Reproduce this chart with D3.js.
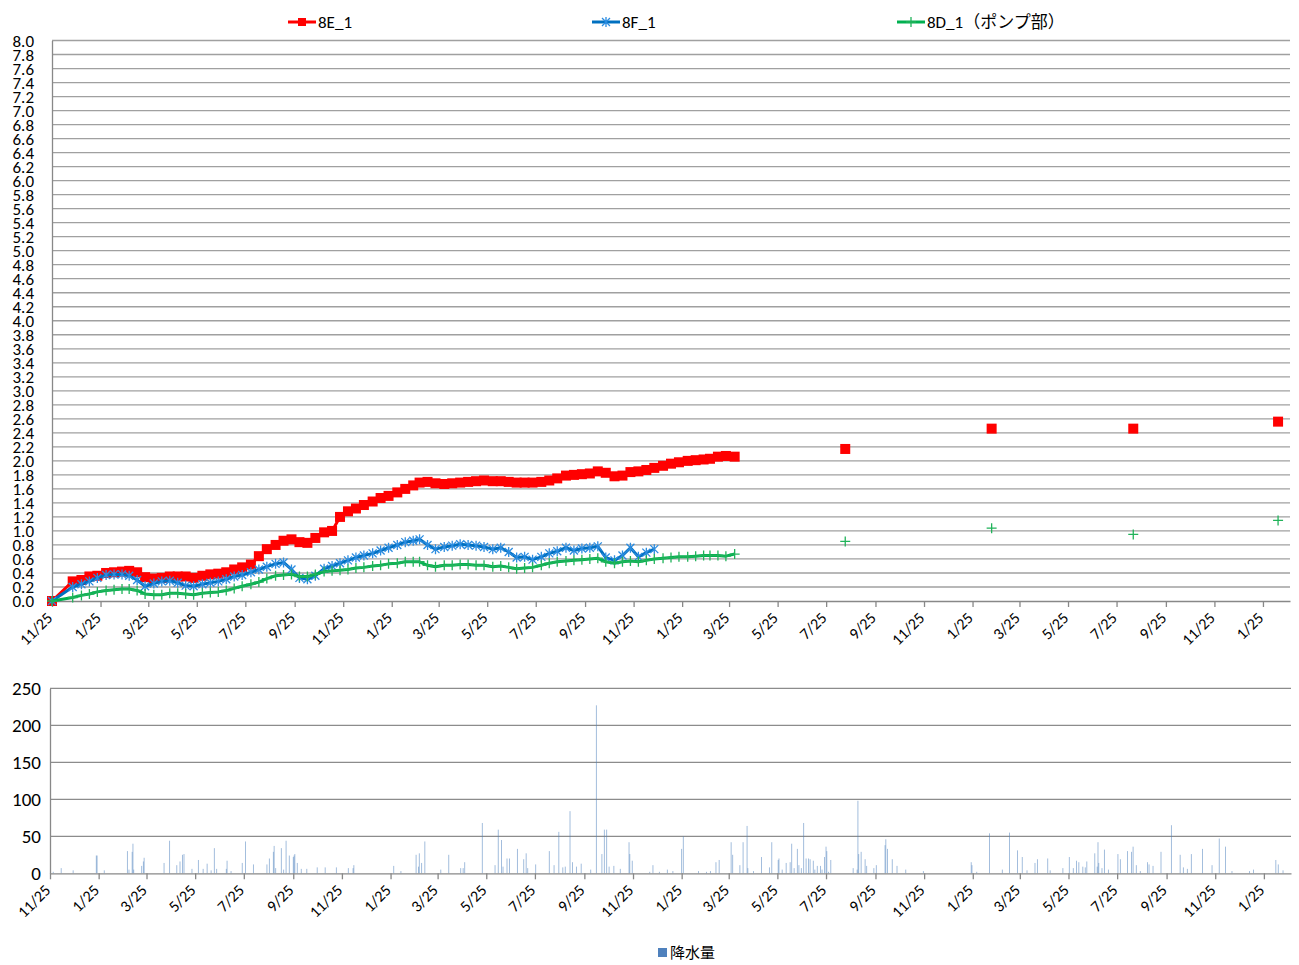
<!DOCTYPE html>
<html>
<head>
<meta charset="utf-8">
<script src="https://cdn.jsdelivr.net/npm/d3@7"></script>
<style>
    body { margin: 0; background: #fff; }
    text { font-family: Carlito, "Liberation Sans", "Noto Sans CJK JP", sans-serif; fill: #000; }
</style>
</head>
<body>
<div id="chart"></div>
<script>
// Variables
var seriesNames = ["8E_1", "8F_1", "8D_1（ポンプ部）"];
var rainName = "降水量";

// measurement dates (continuous period)
var measureDates = [
    "2011-11-25", "2011-12-21",
    "2012-01-01", "2012-01-11", "2012-01-21", "2012-02-01", "2012-02-11", "2012-02-21",
    "2012-03-01", "2012-03-11", "2012-03-21", "2012-04-01", "2012-04-11", "2012-04-21",
    "2012-05-01", "2012-05-11", "2012-05-21", "2012-06-01", "2012-06-11", "2012-06-21",
    "2012-07-01", "2012-07-11", "2012-07-21", "2012-08-01", "2012-08-11", "2012-08-21",
    "2012-09-01", "2012-09-11", "2012-09-21", "2012-10-01", "2012-10-11", "2012-10-21",
    "2012-11-01", "2012-11-11", "2012-11-21", "2012-12-01", "2012-12-11", "2012-12-21",
    "2013-01-01", "2013-01-11", "2013-01-21", "2013-02-01", "2013-02-11", "2013-02-21",
    "2013-03-01", "2013-03-11", "2013-03-21", "2013-04-01", "2013-04-11", "2013-04-21",
    "2013-05-01", "2013-05-11", "2013-05-21", "2013-06-01", "2013-06-11", "2013-06-21",
    "2013-07-01", "2013-07-11", "2013-07-21", "2013-08-01", "2013-08-11", "2013-08-21",
    "2013-09-01", "2013-09-11", "2013-09-21", "2013-10-01", "2013-10-11", "2013-10-21",
    "2013-11-01", "2013-11-11", "2013-11-21", "2013-12-01", "2013-12-11", "2013-12-21",
    "2014-01-01", "2014-01-11", "2014-01-21", "2014-02-01", "2014-02-11", "2014-02-21",
    "2014-03-01", "2014-03-11", "2014-03-21", "2014-04-01"
];

var values8E = [
    0, 0.28,
    0.30, 0.35, 0.36, 0.40, 0.41, 0.42,
    0.43, 0.41, 0.34, 0.32, 0.33, 0.35,
    0.35, 0.35, 0.33, 0.36, 0.38, 0.39,
    0.41, 0.45, 0.48, 0.52, 0.64, 0.74,
    0.80, 0.86, 0.88, 0.84, 0.83, 0.90,
    0.98, 1.00, 1.20, 1.28, 1.32, 1.37,
    1.42, 1.47, 1.50, 1.55, 1.60, 1.65,
    1.69, 1.70, 1.68, 1.67, 1.68, 1.69,
    1.70, 1.71, 1.72, 1.71, 1.71, 1.70,
    1.69, 1.69, 1.69, 1.70, 1.72, 1.75,
    1.79, 1.80, 1.81, 1.82, 1.85, 1.83,
    1.78, 1.79, 1.84, 1.85, 1.87, 1.90,
    1.93, 1.96, 1.98, 2.00, 2.01, 2.02,
    2.03, 2.06, 2.07, 2.06
];

var values8F = [
    0, 0.20,
    0.24, 0.28, 0.33, 0.37, 0.38, 0.38,
    0.36, 0.30, 0.21, 0.25, 0.28, 0.29,
    0.26, 0.22, 0.21, 0.24, 0.26, 0.28,
    0.31, 0.35, 0.37, 0.41, 0.45, 0.49,
    0.53, 0.55, 0.45, 0.33, 0.31, 0.36,
    0.46, 0.50, 0.54, 0.58, 0.62, 0.65,
    0.68, 0.72, 0.76, 0.80, 0.84, 0.86,
    0.88, 0.80, 0.74, 0.77, 0.79, 0.81,
    0.80, 0.79, 0.77, 0.74, 0.76, 0.70,
    0.62, 0.63, 0.59, 0.63, 0.68, 0.71,
    0.76, 0.72, 0.75, 0.76, 0.78, 0.62,
    0.58, 0.65, 0.76, 0.63, 0.69, 0.74,
    null, null, null, null, null, null,
    null, null, null, null
];

var values8D = [
    0, 0.05,
    0.08, 0.10, 0.13, 0.15, 0.16, 0.17,
    0.17, 0.15, 0.10, 0.09, 0.09, 0.11,
    0.11, 0.10, 0.09, 0.11, 0.12, 0.13,
    0.15, 0.18, 0.21, 0.24, 0.27, 0.32,
    0.36, 0.37, 0.38, 0.35, 0.35, 0.38,
    0.42, 0.43, 0.44, 0.45, 0.47, 0.48,
    0.50, 0.51, 0.53, 0.54, 0.56, 0.56,
    0.56, 0.51, 0.49, 0.51, 0.51, 0.52,
    0.52, 0.51, 0.51, 0.49, 0.50, 0.48,
    0.46, 0.47, 0.48, 0.51, 0.54, 0.56,
    0.57, 0.58, 0.59, 0.60, 0.61, 0.56,
    0.54, 0.56, 0.57, 0.56, 0.58, 0.60,
    0.61, 0.62, 0.63, 0.63, 0.64, 0.65,
    0.65, 0.65, 0.64, 0.67
];

// later single measurements
var laterDates = ["2014-08-18", "2015-02-18", "2015-08-15", "2016-02-13"];
var later8E = [2.17, 2.46, 2.46, 2.56];
var later8D = [0.85, 1.04, 0.95, 1.15];

// rainfall: days since 2011-11-25 and mm
var rainDays = [
    4, 14, 29, 58, 59, 68, 97, 99, 103, 104,
    105, 115, 117, 118, 143, 150, 159, 163, 166, 168,
    178, 186, 192, 197, 202, 206, 209, 221, 222, 227,
    241, 245, 255, 272, 275, 280, 281, 283, 290, 293,
    296, 300, 305, 306, 307, 310, 315, 322, 335, 345,
    359, 374, 380, 381, 431, 440, 459, 462, 463, 466,
    470, 490, 500, 515, 518, 520, 542, 558, 562, 566,
    568, 573, 576, 586, 594, 597, 599, 609, 626, 632,
    638, 643, 646, 652, 655, 660, 666, 678, 685, 692,
    695, 698, 701, 707, 715, 726, 727, 730, 752, 756,
    764, 774, 781, 792, 794, 813, 823, 828, 835, 839,
    854, 856, 865, 869, 874, 875, 882, 892, 902, 905,
    913, 914, 918, 923, 928, 930, 933, 937, 939, 942,
    945, 948, 951, 953, 957, 959, 962, 966, 968, 971,
    973, 974, 976, 979, 1007, 1012, 1013, 1014, 1017, 1022,
    1024, 1033, 1036, 1047, 1048, 1050, 1056, 1062, 1073, 1095,
    1155, 1156, 1162, 1178, 1194, 1203, 1213, 1219, 1225, 1235,
    1238, 1251, 1254, 1270, 1278, 1283, 1287, 1290, 1295, 1298,
    1300, 1310, 1313, 1314, 1315, 1319, 1322, 1327, 1339, 1342,
    1351, 1356, 1358, 1362, 1367, 1376, 1378, 1383, 1393, 1406,
    1417, 1421, 1426, 1431, 1445, 1457, 1466, 1474, 1482, 1504,
    1509, 1537, 1540, 1546
];
var rainMm = [
    2, 7, 4, 24, 24, 4, 30, 5, 29, 40,
    5, 10, 16, 21, 14, 44, 11, 16, 25, 26,
    6, 18, 6, 13, 4, 34, 6, 6, 17, 3,
    14, 43, 12, 12, 20, 29, 37, 7, 34, 5,
    44, 24, 22, 24, 26, 14, 6, 6, 8, 8,
    8, 7, 7, 11, 10, 3, 25, 9, 27, 14,
    43, 5, 25, 7, 7, 15, 68, 11, 59, 45,
    9, 20, 20, 33, 19, 27, 7, 12, 30, 11,
    56, 8, 9, 84, 15, 9, 13, 5, 227, 26,
    59, 59, 9, 10, 6, 42, 26, 17, 2, 11,
    2, 5, 3, 33, 50, 3, 2, 3, 15, 18,
    42, 25, 11, 42, 64, 7, 3, 22, 8, 42,
    18, 20, 5, 14, 15, 40, 7, 33, 11, 7,
    68, 20, 20, 19, 17, 5, 10, 10, 5, 22,
    36, 30, 2, 18, 7, 5, 98, 26, 29, 19,
    10, 7, 11, 38, 46, 33, 19, 10, 5, 3,
    15, 11, 2, 54, 5, 55, 31, 22, 4, 14,
    19, 20, 4, 7, 22, 7, 17, 15, 9, 8,
    16, 27, 9, 42, 14, 7, 32, 5, 26, 19,
    30, 29, 36, 11, 3, 15, 12, 10, 29, 65,
    25, 8, 6, 26, 33, 11, 47, 36, 3, 3,
    5, 18, 12, 4
];

var xTickDates = [
    "2011-11-25", "2012-01-25", "2012-03-25", "2012-05-25", "2012-07-25", "2012-09-25",
    "2012-11-25", "2013-01-25", "2013-03-25", "2013-05-25", "2013-07-25", "2013-09-25",
    "2013-11-25", "2014-01-25", "2014-03-25", "2014-05-25", "2014-07-25", "2014-09-25",
    "2014-11-25", "2015-01-25", "2015-03-25", "2015-05-25", "2015-07-25", "2015-09-25",
    "2015-11-25", "2016-01-25"
];
var rainTicks = [0, 50, 100, 150, 200, 250];

var parseDate = d3.timeParse("%Y-%m-%d");
var startDate = parseDate("2011-11-25");
var endDate = parseDate("2016-02-28");

var svg;

// Functions
function init() {
    svg = d3.select("#chart")
        .append("svg")
        .attr("width", 1299)
        .attr("height", 965);

    drawTopChart();
    drawRainChart();
}

function drawMarker(g, type, color) {
    if (type === "square") {
        g.append("rect")
            .attr("x", -5).attr("y", -5)
            .attr("width", 10).attr("height", 10)
            .attr("fill", color);
    } else if (type === "star") {
        g.append("path")
            .attr("d", "M-4,-4L4,4M-4,4L4,-4M0,-5L0,5")
            .attr("stroke", color).attr("stroke-width", 1.3).attr("fill", "none");
    } else {
        g.append("path")
            .attr("d", "M-5,0L5,0M0,-5L0,5")
            .attr("stroke", color).attr("stroke-width", 1.3).attr("fill", "none");
    }
}

function styleDateAxis(axisG) {
    axisG.select(".domain").attr("stroke", "#888").attr("stroke-width", 1.3);
    axisG.selectAll(".tick line").attr("stroke", "#888").attr("stroke-width", 1.3);
    axisG.selectAll(".tick text")
        .attr("font-size", 16)
        .attr("text-anchor", "end")
        .attr("transform", "translate(1,18) rotate(-45)")
        .attr("x", 0).attr("y", 0).attr("dy", 0);
}

function drawTopChart() {
    var x = d3.scaleTime().domain([startDate, endDate]).range([52, 1290]);
    var y = d3.scaleLinear().domain([0, 8]).range([601, 40.5]);
    var yTicks = d3.range(0, 41).map(function(i) { return i / 5; });

    // gridlines
    svg.append("g").selectAll("line")
        .data(yTicks.slice(1))
        .join("line")
        .attr("x1", 52).attr("x2", 1290)
        .attr("y1", function(d) { return y(d); })
        .attr("y2", function(d) { return y(d); })
        .attr("stroke", "#a0a0a0")
        .attr("stroke-width", 1.3);

    var yAxis = svg.append("g")
        .attr("transform", "translate(52,0)")
        .call(d3.axisLeft(y).tickValues(yTicks).tickFormat(d3.format(".1f")).tickSize(0).tickPadding(18));
    yAxis.select(".domain").attr("stroke", "#888").attr("stroke-width", 1.3);
    yAxis.selectAll("text").attr("font-size", 17).attr("dy", "0.34em");

    var xAxis = svg.append("g")
        .attr("transform", "translate(0,601)")
        .call(d3.axisBottom(x)
            .tickValues(xTickDates.map(parseDate))
            .tickFormat(d3.timeFormat("%-m/%-d"))
            .tickSize(6).tickSizeOuter(0));
    styleDateAxis(xAxis);

    var dates = measureDates.map(parseDate);
    var series = [
        {values: values8E, later: later8E, color: "#ff0000", marker: "square", mcolor: "#ff0000", width: 3},
        {values: values8F, later: null, color: "#0070c0", marker: "star", mcolor: "#2b8ce0", width: 3},
        {values: values8D, later: later8D, color: "#00b050", marker: "plus", mcolor: "#21b35a", width: 3}
    ];

    var line = d3.line()
        .defined(function(d) { return d.v !== null; })
        .x(function(d) { return x(d.date); })
        .y(function(d) { return y(d.v); });

    series.forEach(function(s) {
        var pts = dates.map(function(dt, i) { return {date: dt, v: s.values[i]}; });
        svg.append("path")
            .datum(pts)
            .attr("d", line)
            .attr("fill", "none")
            .attr("stroke", s.color)
            .attr("stroke-width", s.width)
            .attr("stroke-linejoin", "round");

        var all = pts.filter(function(p) { return p.v !== null; });
        if (s.later) {
            laterDates.forEach(function(ld, i) {
                all.push({date: parseDate(ld), v: s.later[i]});
            });
        }
        svg.append("g").selectAll("g")
            .data(all)
            .join("g")
            .attr("transform", function(d) { return "translate(" + x(d.date) + "," + y(d.v) + ")"; })
            .each(function() { drawMarker(d3.select(this), s.marker, s.mcolor); });
    });

    // legend
    var legendX = [288, 592, 897];
    series.forEach(function(s, i) {
        var lg = svg.append("g").attr("transform", "translate(" + legendX[i] + ",22)");
        lg.append("line").attr("x1", 0).attr("x2", 28).attr("y1", 0).attr("y2", 0)
            .attr("stroke", s.color).attr("stroke-width", s.width);
        var m = lg.append("g").attr("transform", "translate(14,0)");
        drawMarker(m, s.marker, s.mcolor);
        if (s.marker === "square") m.select("rect").attr("x", -4).attr("y", -4).attr("width", 8).attr("height", 8);
        lg.append("text")
            .attr("x", 30).attr("y", 0).attr("dy", "0.34em")
            .attr("font-size", 17)
            .text(seriesNames[i]);
    });
}

function drawRainChart() {
    var x = d3.scaleTime().domain([startDate, endDate]).range([50, 1291]);
    var y = d3.scaleLinear().domain([0, 250]).range([873.3, 688.3]);

    svg.append("g").selectAll("line")
        .data(rainTicks.slice(1))
        .join("line")
        .attr("x1", 50).attr("x2", 1291)
        .attr("y1", function(d) { return y(d); })
        .attr("y2", function(d) { return y(d); })
        .attr("stroke", "#8c8c8c")
        .attr("stroke-width", 1.3);

    var yAxis = svg.append("g")
        .attr("transform", "translate(50,0)")
        .call(d3.axisLeft(y).tickValues(rainTicks).tickSize(0).tickPadding(9));
    yAxis.select(".domain").attr("stroke", "#888").attr("stroke-width", 1.3);
    yAxis.selectAll("text").attr("font-size", 19).attr("dy", "0.34em");

    svg.append("g").selectAll("rect")
        .data(rainDays)
        .join("rect")
        .attr("x", function(d) { return x(d3.timeDay.offset(startDate, d)) - 0.4; })
        .attr("width", 0.8)
        .attr("y", function(d, i) { return y(rainMm[i]); })
        .attr("height", function(d, i) { return y(0) - y(rainMm[i]); })
        .attr("fill", "#4f81bd")
        .attr("fill-opacity", 0.65);

    var xAxis = svg.append("g")
        .attr("transform", "translate(0,873.3)")
        .call(d3.axisBottom(x)
            .tickValues(xTickDates.map(parseDate))
            .tickFormat(d3.timeFormat("%-m/%-d"))
            .tickSize(6).tickSizeOuter(0));
    styleDateAxis(xAxis);

    // legend
    svg.append("rect")
        .attr("x", 658).attr("y", 948)
        .attr("width", 9).attr("height", 9)
        .attr("fill", "#4f81bd");
    svg.append("text")
        .attr("x", 670).attr("y", 953).attr("dy", "0.36em")
        .attr("font-size", 15)
        .style("font-family", "'Noto Sans CJK JP', sans-serif")
        .text(rainName);
}

init();
</script>
</body>
</html>
